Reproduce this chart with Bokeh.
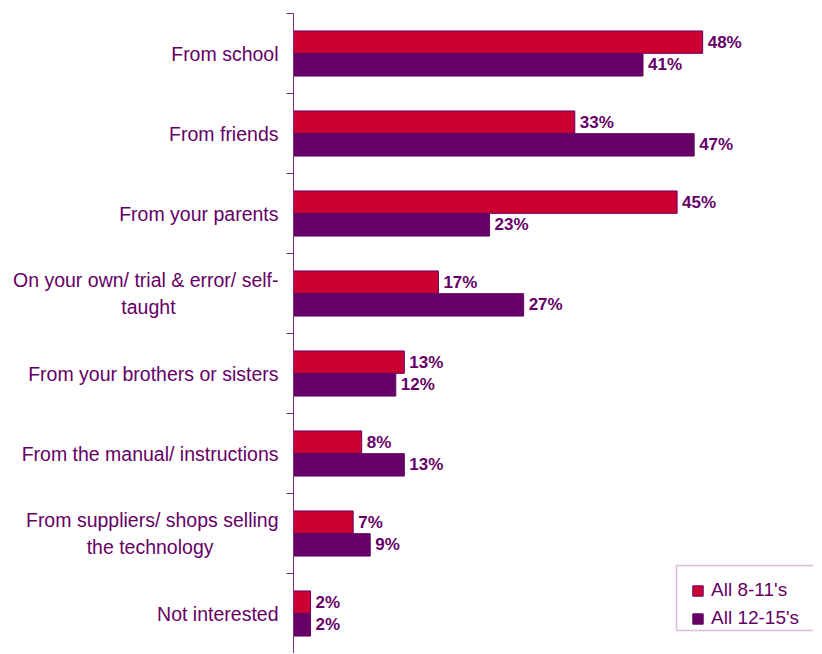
from bokeh.plotting import figure
from bokeh.models import ColumnDataSource, Range1d, FixedTicker, Legend, LegendItem, BoxAnnotation
from bokeh.transform import dodge
from bokeh.core.properties import value
from bokeh.embed import file_html
from bokeh.resources import INLINE

NB = "\u00a0"
categories = [
    "From school",
    "From friends",
    "From your parents",
    "On your own/ trial & error/ self-\ntaught" + NB * 19,
    "From your brothers or sisters",
    "From the manual/ instructions",
    "From suppliers/ shops selling\nthe technology" + NB * 12,
    "Not interested",
]
all_8_11 = [48, 33, 45, 17, 13, 8, 7, 2]
all_12_15 = [41, 47, 23, 27, 12, 13, 9, 2]
series_names = ["All 8-11's", "All 12-15's"]

RED = "#CC0033"
PURPLE = "#660066"
AXIS = "#7F2A80"
FONT = "Liberation Sans"

pos = [i + 0.5 for i in range(len(categories))]
src = ColumnDataSource(dict(
    y=pos,
    a=all_8_11,
    b=all_12_15,
    la=[f"{v}%" for v in all_8_11],
    lb=[f"{v}%" for v in all_12_15],
))

p = figure(width=813, height=653, output_backend="svg", toolbar_location=None,
           x_range=Range1d(0, 61), y_range=Range1d(len(categories), 0),
           x_axis_location=None, min_border_left=293, min_border_top=13,
           min_border_bottom=0, min_border_right=0)
p.outline_line_color = None
p.xgrid.visible = False
p.ygrid.visible = False

h = 0.28
off = 0.142
ra = p.hbar(y=dodge("y", -off, range=p.y_range), right="a", left=0, height=h, source=src,
            fill_color=RED, line_color=PURPLE, line_width=1)
rb = p.hbar(y=dodge("y", off, range=p.y_range), right="b", left=0, height=h, source=src,
            fill_color=PURPLE, line_color=PURPLE, line_width=1)

p.text(x="a", y=dodge("y", -off, range=p.y_range), text="la", source=src, x_offset=5,
       text_baseline="middle", text_align="left", text_font=value(FONT),
       text_font_style="bold", text_font_size="17px", text_color=PURPLE)
p.text(x="b", y=dodge("y", off, range=p.y_range), text="lb", source=src, x_offset=5,
       text_baseline="middle", text_align="left", text_font=value(FONT),
       text_font_style="bold", text_font_size="17px", text_color=PURPLE)

ax = p.yaxis[0]
ax.ticker = FixedTicker(ticks=pos, minor_ticks=list(range(len(categories) + 1)))
ax.major_label_overrides = {pv: c for pv, c in zip(pos, categories)}
ax.major_tick_line_color = None
ax.major_tick_out = 0
ax.major_tick_in = 0
ax.minor_tick_line_color = AXIS
ax.minor_tick_out = 7
ax.minor_tick_in = 0
ax.axis_line_color = AXIS
ax.axis_line_width = 1
ax.major_label_text_font = FONT
ax.major_label_text_font_size = "19.5px"
ax.major_label_text_color = PURPLE
ax.major_label_standoff = 8

box = BoxAnnotation(left=383, right=540, bottom=23, top=88,
                    left_units="screen", right_units="screen",
                    bottom_units="screen", top_units="screen",
                    fill_color="white", fill_alpha=1,
                    line_color=AXIS, line_width=1.5)
p.add_layout(box)

legend = Legend(items=[LegendItem(label=series_names[0], renderers=[ra]),
                       LegendItem(label=series_names[1], renderers=[rb])],
                location=(398, 24), padding=8, spacing=6, glyph_width=13, glyph_height=13,
                label_standoff=7, label_text_font=FONT, label_text_font_size="19px",
                label_text_color=PURPLE, border_line_color=None,
                background_fill_alpha=0, margin=0)
p.add_layout(legend)

open("out.html", "w").write(file_html(p, INLINE))
